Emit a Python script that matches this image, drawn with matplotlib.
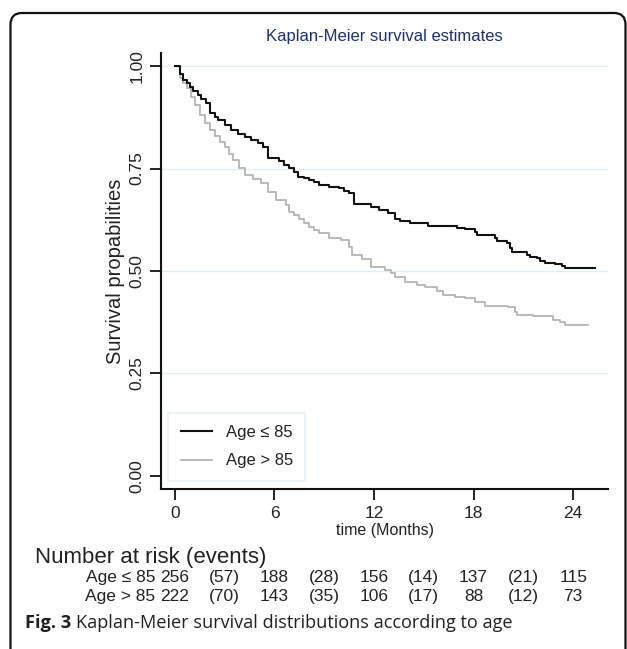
import numpy as np
import matplotlib
matplotlib.use("Agg")
import matplotlib.pyplot as plt
from matplotlib.patches import FancyBboxPatch
from matplotlib.transforms import blended_transform_factory

# ---------------- data ----------------
t_le85 = [0, 0.3, 0.5, 0.7, 0.9, 1.1, 1.4, 1.6, 1.9, 2.1, 2.4, 2.6, 3.0, 3.4, 3.8,
          4.2, 4.6, 5.0, 5.3, 5.6, 6.3, 6.6, 6.9, 7.2, 7.4, 7.8, 8.1, 8.4, 8.7, 9.3,
          9.9, 10.2, 10.5, 10.8, 11.8, 12.3, 12.85, 13.25, 13.55, 14.15, 15.26, 17.0,
          17.5, 18.07, 18.2, 19.3, 19.4, 20.0, 20.2, 20.3, 21.2, 21.4, 21.8, 22.0,
          22.3, 22.9, 23.3, 23.5, 25.3]
s_le85 = [1.0, 0.98, 0.966, 0.958, 0.95, 0.94, 0.929, 0.92, 0.909, 0.885, 0.875, 0.868,
          0.856, 0.844, 0.835, 0.828, 0.82, 0.812, 0.803, 0.775, 0.768, 0.758, 0.751,
          0.742, 0.73, 0.726, 0.722, 0.716, 0.71, 0.706, 0.702, 0.696, 0.69, 0.663,
          0.655, 0.649, 0.641, 0.628, 0.623, 0.618, 0.611, 0.606, 0.602, 0.596, 0.588,
          0.58, 0.572, 0.569, 0.555, 0.547, 0.539, 0.533, 0.531, 0.525, 0.519, 0.517,
          0.512, 0.507, 0.507]

t_gt85 = [0, 0.3, 0.5, 0.7, 0.95, 1.2, 1.5, 1.8, 2.1, 2.4, 2.7, 3.0, 3.25, 3.5, 3.85,
          4.2, 4.7, 5.2, 5.6, 6.1, 6.7, 6.9, 7.2, 7.5, 7.8, 8.1, 8.4, 8.7, 9.3, 10.0,
          10.5, 10.7, 11.3, 11.8, 12.65, 13.0, 13.25, 13.86, 14.56, 15.06, 15.77, 16.16,
          16.87, 17.47, 18.07, 18.7, 20.1, 20.5, 20.6, 21.6, 22.8, 23.2, 23.5, 24.9]
s_gt85 = [1.0, 0.97, 0.96, 0.946, 0.925, 0.905, 0.88, 0.86, 0.845, 0.83, 0.815, 0.803,
          0.785, 0.77, 0.752, 0.734, 0.724, 0.714, 0.693, 0.673, 0.661, 0.645, 0.636,
          0.628, 0.618, 0.608, 0.6, 0.592, 0.58, 0.576, 0.559, 0.539, 0.53, 0.51, 0.502,
          0.494, 0.486, 0.472, 0.466, 0.462, 0.45, 0.441, 0.437, 0.433, 0.425, 0.415,
          0.411, 0.401, 0.393, 0.39, 0.38, 0.376, 0.368, 0.368]

group_labels = ["Age \u2264 85", "Age > 85"]
xticks = [0, 6, 12, 18, 24]
yticks = [0.00, 0.25, 0.50, 0.75, 1.00]
risk_le85 = [256, 188, 156, 137, 115]
events_le85 = [57, 28, 14, 21]
risk_gt85 = [222, 143, 106, 88, 73]
events_gt85 = [70, 35, 17, 12]

# ---------------- figure ----------------
W, H = 627, 649
fig = plt.figure(figsize=(W / 100, H / 100), dpi=100)
plt.rcParams['font.family'] = ['Liberation Sans', 'DejaVu Sans']

def fx(x):
    return x / W

def fy(y):
    return 1 - y / H

# frame around figure
frame = FancyBboxPatch((fx(10.5), fy(700)), fx(615), (700 - 13) / H,
                       boxstyle="round,pad=0,rounding_size=0.018",
                       transform=fig.transFigure, fill=False, lw=1.6,
                       ec="#111111", clip_on=False)
fig.patches.append(frame)

ax_l, ax_r, ax_t, ax_b = 161, 608, 53, 489
ax = fig.add_axes([fx(ax_l), fy(ax_b), (ax_r - ax_l) / W, (ax_b - ax_t) / H])

grid_c = "#e3eef3"
for yv in yticks[1:]:
    ax.axhline(yv, color=grid_c, lw=1.0, zorder=0)

ax.step(t_gt85, s_gt85, where='post', color="#b4b4b4", lw=1.3, label=group_labels[1], zorder=2)
ax.step(t_le85, s_le85, where='post', color="#111111", lw=1.5, label=group_labels[0], zorder=3)

ax.set_xlim(-0.84, 26.1)
ax.set_ylim(-0.032, 1.032)
ax.set_xticks(xticks)
ax.set_yticks(yticks)
ax.set_yticklabels([f"{v:.2f}" for v in yticks], rotation=90, va='center')
ax.tick_params(axis='both', direction='out', length=8, width=1.3, colors='#111111',
               labelsize=12.5, labelcolor='#222222')
ax.tick_params(axis='y', pad=4)
ax.tick_params(axis='x', pad=4)
for sp in ['top', 'right']:
    ax.spines[sp].set_visible(False)
for sp in ['left', 'bottom']:
    ax.spines[sp].set_linewidth(1.5)
    ax.spines[sp].set_color('#111111')

ax.set_ylabel("Survival propabilities", fontsize=14.5, color='#222222', labelpad=3)
ax.set_xlabel("time (Months)", fontsize=11.5, color='#222222', labelpad=1.5)

handles, labels = ax.get_legend_handles_labels()
leg = ax.legend(handles[::-1], labels[::-1], loc='lower left',
                bbox_to_anchor=((168 - ax_l) / (ax_r - ax_l), (ax_b - 481) / (ax_b - ax_t)),
                borderaxespad=0, frameon=True, fancybox=False, fontsize=12,
                handlelength=1.9, handletextpad=0.8, labelspacing=0.8,
                borderpad=0.75)
leg.get_frame().set_edgecolor(grid_c)
leg.get_frame().set_linewidth(1.2)
for txt in leg.get_texts():
    txt.set_color('#222222')

fig.text(fx(384), fy(36), "Kaplan-Meier survival estimates", ha='center', va='center',
         fontsize=12, color='#1f2f6e')

# ---------------- number at risk table ----------------
fig.text(fx(35), fy(557), "Number at risk (events)", ha='left', va='center',
         fontsize=16, color='#222222')
tr = blended_transform_factory(ax.transData, fig.transFigure)
rows = [(group_labels[0], risk_le85, events_le85, 582),
        (group_labels[1], risk_gt85, events_gt85, 601)]
for lab, risk, ev, ypix in rows:
    fig.text(fx(155), fy(ypix), lab, ha='right', va='baseline', fontsize=12.5, color='#222222')
    for xt, r in zip(xticks, risk):
        ax.text(xt, fy(ypix), str(r), transform=tr, ha='center', va='baseline',
                fontsize=12.5, color='#222222', clip_on=False)
    for i, e in enumerate(ev):
        xm = (xticks[i] + xticks[i + 1]) / 2
        ax.text(xm, fy(ypix), f"({e})", transform=tr, ha='center', va='baseline',
                fontsize=12.5, color='#222222', clip_on=False)

# ---------------- caption ----------------
cap1 = fig.text(fx(25), fy(623), "Fig. 3", ha='left', va='center', fontsize=13.1,
                fontweight='bold', family='Open Sans', color='#231f20')
fig.canvas.draw()
bb = cap1.get_window_extent()
fig.text((bb.x1 + 5) / W, fy(623), "Kaplan-Meier survival distributions according to age",
         ha='left', va='center', fontsize=13.1, family='Open Sans', color='#231f20')

fig.savefig("out.png", dpi=100)
